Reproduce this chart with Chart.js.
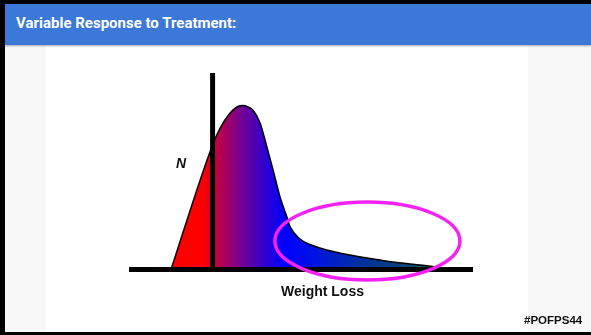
<!DOCTYPE html>
<html>
<head>
<meta charset="utf-8">
<script src="https://cdn.jsdelivr.net/npm/chart.js@4/dist/chart.umd.min.js"></script>
<style>
  html, body { margin: 0; padding: 0; background: #fff; }
  #slide { position: relative; width: 591px; height: 335px; overflow: hidden; background: #fff; }
  .bar-top { position: absolute; left: 0; top: 0; width: 591px; height: 4px; background: #000; }
  .bar-left { position: absolute; left: 0; top: 0; width: 5px; height: 335px; background: #000; }
  .bar-bottom { position: absolute; left: 0; top: 332px; width: 591px; height: 3px; background: #000; }
  .header { position: absolute; left: 5px; top: 4px; width: 586px; height: 41px; background: #3c78d8;
            box-shadow: 0 1px 2px rgba(0,0,0,0.35); }
  .header span { position: absolute; left: 11px; top: 10px; font: bold 15px Roboto, "Liberation Sans", sans-serif; color: #fff; }
  .side-l { position: absolute; left: 5px; top: 45px; width: 41px; height: 287px; background: #f8f8f8; }
  .side-r { position: absolute; left: 528px; top: 45px; width: 63px; height: 287px; background: #f8f8f8; }
  .lbl { position: absolute; font-family: "Liberation Sans", Arial, sans-serif; font-weight: bold; color: #111; white-space: nowrap; }
  #cv { position: absolute; left: 0; top: 0; }
</style>
</head>
<body>
<div id="slide">
  <div class="side-l"></div>
  <div class="side-r"></div>
  <div class="header"><span>Variable Response to Treatment:</span></div>
  <div class="bar-top"></div>
  <div class="bar-left"></div>
  <div class="bar-bottom"></div>
  <canvas id="cv" width="591" height="335"></canvas>
  <div class="lbl" style="left:176px; top:155px; font-size:14px; font-style:italic;">N</div>
  <div class="lbl" style="left:281px; top:283px; font-size:14px;">Weight Loss</div>
  <div class="lbl" style="left:524px; top:314px; font-size:11.5px;">#POFPS44</div>
</div>
<script>
// Distribution of weight loss (x) against number of patients N (y), arbitrary units
const lossValues  = [12.2, 24.3, 26.5, 29.4, 31.4, 33.1, 34.6, 36.0, 38.1, 40.1, 41.9, 43.9, 45.9, 46.8, 49.7, 52.6, 55.5, 59.9, 64.2, 70.1, 76.7, 81.7, 86.6, 90.4, 91.9];
const countValues = [0,    63.4, 72.0, 79.6, 82.7, 83.4, 82.7, 81.2, 74.6, 62.3, 50.6, 36.9, 26.7, 21.8, 15.5, 12.7, 10.9,  8.9,  7.4,  5.6,  3.8,  2.8,  1.9,  1.0,  0];

// Axis lines: baseline across the full range, N axis at the zero-loss point
const axisXRange = [0, 100];
const axisNPos = 24.3;
const axisNRange = [0, 100];

// Highlighted tail of responders: centre (x, y) and radii (x, y)
const tailHighlight = [69.3, 14.5, 26.9, 19.8];

const curvePoints = lossValues.map((x, i) => ({ x, y: countValues[i] }));

function curveGradient(ctx) {
  const chart = ctx.chart;
  const xs = chart.scales.x;
  if (!xs || !chart.chartArea) return '#0000ff';
  const stops = [
    [12.2, '#ff0000'], [21.5, '#ff0000'], [25.0, '#c8003c'], [32.3, '#780090'],
    [39.5, '#3000d0'], [45.3, '#0000ff'], [52.6, '#0010e8'], [67.0, '#0030a0'],
    [78.8, '#04407a'], [90.4, '#0d5a55']
  ];
  const x0 = xs.getPixelForValue(stops[0][0]);
  const x1 = xs.getPixelForValue(stops[stops.length - 1][0]);
  const g = chart.ctx.createLinearGradient(x0, 0, x1, 0);
  stops.forEach(([v, c]) => {
    const p = (xs.getPixelForValue(v) - x0) / (x1 - x0);
    g.addColorStop(Math.min(1, Math.max(0, p)), c);
  });
  return g;
}

const ellipsePlugin = {
  id: 'tailEllipse',
  afterDatasetsDraw(chart) {
    const { ctx, scales: { x, y } } = chart;
    const [cx, cy, rx, ry] = tailHighlight;
    const px = x.getPixelForValue(cx);
    const py = y.getPixelForValue(cy);
    const prx = Math.abs(x.getPixelForValue(cx + rx) - px);
    const pry = Math.abs(y.getPixelForValue(cy + ry) - py);
    ctx.save();
    ctx.beginPath();
    ctx.ellipse(px, py, prx, pry, 0, 0, Math.PI * 2);
    ctx.lineWidth = 3.5;
    ctx.strokeStyle = '#f522f5';
    ctx.stroke();
    ctx.restore();
  }
};

new Chart(document.getElementById('cv'), {
  type: 'line',
  data: {
    datasets: [
      {
        label: 'N',
        data: curvePoints,
        borderColor: '#000',
        borderWidth: 1.5,
        backgroundColor: curveGradient,
        fill: 'origin',
        cubicInterpolationMode: 'monotone',
        pointRadius: 0,
        order: 3,
        clip: false
      },
      {
        label: 'baseline',
        data: axisXRange.map(x => ({ x, y: 0 })),
        borderColor: '#000',
        borderWidth: 5,
        pointRadius: 0,
        fill: false,
        order: 1,
        clip: false
      },
      {
        label: 'N axis',
        data: axisNRange.map(y => ({ x: axisNPos, y })),
        borderColor: '#000',
        borderWidth: 5,
        pointRadius: 0,
        fill: false,
        order: 2,
        clip: false
      }
    ]
  },
  options: {
    responsive: false,
    animation: false,
    layout: { padding: { left: 129, right: 118, top: 73, bottom: 65.5 } },
    plugins: { legend: { display: false }, tooltip: { enabled: false } },
    scales: {
      x: { type: 'linear', min: 0, max: 100, display: false },
      y: { type: 'linear', min: 0, max: 100, display: false }
    }
  },
  plugins: [ellipsePlugin]
});
</script>
</body>
</html>
